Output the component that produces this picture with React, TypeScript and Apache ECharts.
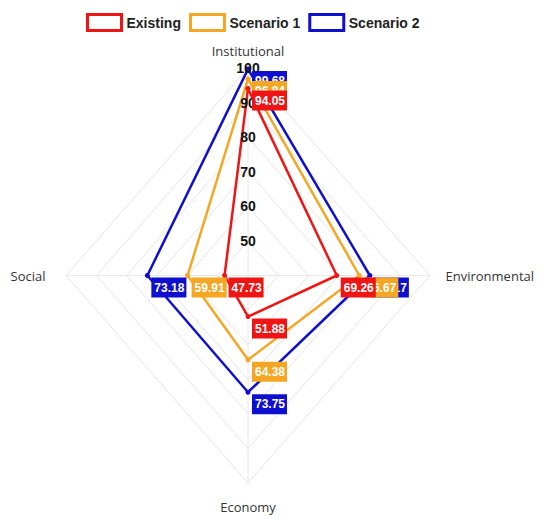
import React, { useEffect, useRef } from "react";
import * as echarts from "echarts";

const indicators = ["Institutional", "Environmental", "Economy", "Social"];
const seriesNames = ["Existing", "Scenario 1", "Scenario 2"];
const existing = [94.05, 69.26, 51.88, 47.73];
const scenario1 = [96.84, 76.67, 64.38, 59.91];
const scenario2 = [99.68, 80.17, 73.75, 73.18];
const tickLabels = [50, 60, 70, 80, 90, 100];
const axisMin = 40;
const axisMax = 100;

const colors = ["#f01515", "#f5a623", "#0f0fd0"];
const values = [existing, scenario1, scenario2];
// direction of each indicator axis: up, right, down, left
const dirs = [
  [0, 1],
  [1, 0],
  [0, -1],
  [-1, 0],
];
const pt = (i: number, v: number) => [dirs[i][0] * (v - axisMin), dirs[i][1] * (v - axisMin)];

export default function App() {
  const ref = useRef<HTMLDivElement>(null);
  useEffect(() => {
    if (!ref.current) return;
    const chart = echarts.init(ref.current, undefined, { renderer: "svg" });
    const span = axisMax - axisMin;

    const gridSeries: any[] = tickLabels.map((L) => ({
      type: "line",
      silent: true,
      symbol: "none",
      z: 1,
      lineStyle: { color: "#e4e4e4", width: 1 },
      data: [0, 1, 2, 3, 0].map((i) => pt(i, L)),
    }));
    gridSeries.push({
      type: "line",
      silent: true,
      symbol: "none",
      z: 1,
      lineStyle: { color: "#e8e8e8", width: 1 },
      data: [pt(0, axisMax), pt(2, axisMax)],
    });
    gridSeries.push({
      type: "line",
      silent: true,
      symbol: "none",
      z: 1,
      lineStyle: { color: "#e8e8e8", width: 1 },
      data: [pt(3, axisMax), pt(1, axisMax)],
    });

    const order = [2, 1, 0];
    const lineSeries = order.map((k) => ({
      name: seriesNames[k],
      type: "line",
      z: 2,
      symbol: "circle",
      symbolSize: 5,
      lineStyle: { color: colors[k], width: 2.5 },
      itemStyle: { color: colors[k] },
      data: [0, 1, 2, 3, 0].map((i) => pt(i, values[k][i])),
    }));

    const labelSeries = order.map((k) => ({
      name: seriesNames[k] + " labels",
      type: "scatter",
      z: 4,
      silent: true,
      symbol: "circle",
      symbolSize: 2,
      itemStyle: { color: colors[k], opacity: 1 },
      label: {
        show: true,
        position: [5, 3],
        backgroundColor: colors[k],
        color: "#ffffff",
        opacity: 1,
        fontFamily: "Arial",
        fontWeight: "bold",
        fontSize: 12,
        padding: [4, 2, 4, 3],
        formatter: (p: any) => p.data.raw.toFixed(2),
      },
      data: [0, 1, 2, 3].map((i) => ({ value: pt(i, values[k][i]), raw: values[k][i] })),
    }));

    const tickSeries = {
      name: "ticks",
      type: "scatter",
      z: 3,
      silent: true,
      symbolSize: 1,
      itemStyle: { color: "rgba(0,0,0,0)" },
      label: {
        show: true,
        position: "inside",
        color: "#111",
        opacity: 1,
        fontFamily: "Arial",
        fontWeight: "bold",
        fontSize: 14,
        formatter: (p: any) => String(p.data.raw),
      },
      data: tickLabels.map((L) => ({ value: pt(0, L), raw: L })),
    };

    const namePos = ["top", "right", "bottom", "left"];
    const nameDist = [10, 15, 17, 20];
    const nameSeries = {
      name: "names",
      type: "scatter",
      z: 3,
      silent: true,
      symbolSize: 1,
      itemStyle: { color: "rgba(0,0,0,0)" },
      data: indicators.map((n, i) => ({
        value: pt(i, axisMax),
        name: n,
        label: {
          show: true,
          position: namePos[i],
          distance: nameDist[i],
          color: "#333",
          opacity: 1,
          fontFamily: "Open Sans",
          fontSize: 13,
          formatter: n,
        },
      })),
    };

    chart.setOption({
      animation: false,
      legend: {
        left: 81,
        top: 8,
        itemWidth: 34,
        itemHeight: 16,
        itemGap: 8,
        textStyle: { fontFamily: "Arial", fontWeight: "bold", fontSize: 14, color: "#222" },
        data: seriesNames.map((n, i) => ({
          name: n,
          icon: "rect",
          itemStyle: { color: "rgba(0,0,0,0)", borderColor: colors[i], borderWidth: 3 },
        })),
      },
      grid: { left: 66, right: 120, top: 68, bottom: 41 },
      xAxis: { type: "value", min: -span, max: span, show: false },
      yAxis: { type: "value", min: -span, max: span, show: false },
      series: [...gridSeries, ...lineSeries, tickSeries, nameSeries, ...labelSeries],
    });
    return () => chart.dispose();
  }, []);
  return (
    <div
      ref={ref}
      style={{ position: "fixed", left: 0, top: 0, width: 550, height: 524, background: "#fff" }}
    />
  );
}
